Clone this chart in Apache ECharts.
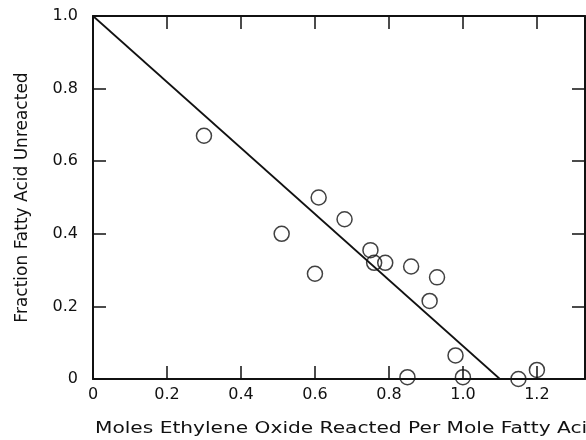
<!DOCTYPE html>
<html>
<head>
<meta charset="utf-8">
<script src="https://cdn.jsdelivr.net/npm/echarts@6/dist/echarts.min.js"></script>
<style>html,body{margin:0;padding:0;background:#fff}#c{width:586px;height:440px}</style>
</head>
<body>
<div id="c"></div>
<script>
// Measured points
var molesEO = [0.30, 0.51, 0.61, 0.60, 0.68, 0.75, 0.76, 0.79, 0.86, 0.93, 0.91, 0.98, 0.85, 1.00, 1.15, 1.20];
var fractionUnreacted = [0.67, 0.40, 0.50, 0.29, 0.44, 0.355, 0.32, 0.32, 0.31, 0.28, 0.215, 0.065, 0.005, 0.005, 0.0, 0.025];
// Fitted straight line
var lineX = [0, 1.1];
var lineY = [1.0, 0];
var xTitle = 'Moles Ethylene Oxide Reacted Per Mole Fatty Acid';
var yTitle = 'Fraction Fatty Acid Unreacted';

var ink = '#111';
var font = 'DejaVu Sans';
function fmt(v){ return v === 0 ? '0' : v.toFixed(1); }

var points = molesEO.map(function(x,i){ return [x, fractionUnreacted[i]]; });
var fit = lineX.map(function(x,i){ return [x, lineY[i]]; });

var chart = echarts.init(document.getElementById('c'));
var baseX = {
  type:'value', min:0, max:1.33, interval:0.2,
  axisLine:{show:true, onZero:false, lineStyle:{color:ink, width:2}},
  axisTick:{show:true, inside:true, length:13, lineStyle:{color:ink, width:1.5}},
  splitLine:{show:false}
};
var baseY = {
  type:'value', min:0, max:1.0, interval:0.2,
  axisLine:{show:true, onZero:false, lineStyle:{color:ink, width:2}},
  axisTick:{show:true, inside:true, length:13, lineStyle:{color:ink, width:1.5}},
  splitLine:{show:false}
};
chart.setOption({
  animation:false,
  backgroundColor:'#fff',
  grid:{left:93, top:16, right:1, bottom:61},
  xAxis:[
    Object.assign({}, baseX, {position:'bottom',
      axisLabel:{show:true, formatter:fmt, color:ink, fontFamily:font, fontSize:16, margin:8, showMaxLabel:false}}),
    Object.assign({}, baseX, {position:'top', axisLabel:{show:false}})
  ],
  yAxis:[
    Object.assign({}, baseY, {position:'left',
      axisLabel:{show:true, formatter:fmt, color:ink, fontFamily:font, fontSize:16, margin:15},
      name:yTitle, nameLocation:'middle', nameGap:62,
      nameTextStyle:{color:ink, fontFamily:font, fontSize:17}}),
    Object.assign({}, baseY, {position:'right', axisLabel:{show:false}})
  ],
  graphic:[{
    type:'text', left:95, top:421, scaleX:1.26,
    style:{text:xTitle, fill:ink, font:'16px "DejaVu Sans"'}
  }],
  series:[
    {type:'line', data:fit, symbol:'none', lineStyle:{color:ink, width:1.7}, silent:true},
    {type:'scatter', data:points, symbol:'circle', symbolSize:15, clip:false,
     itemStyle:{color:'rgba(0,0,0,0)', borderColor:ink, borderWidth:1.5}}
  ]
});
</script>
</body>
</html>
